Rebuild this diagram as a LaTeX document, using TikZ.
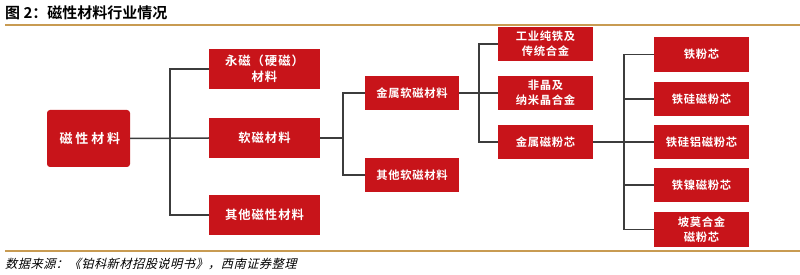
\documentclass[tikz,border=0pt]{standalone}
\usepackage{fontspec}
\newfontfamily\cjkb{Noto Sans CJK SC Bold}
\newfontfamily\cjkroot[LetterSpace=22]{Noto Sans CJK SC Bold}
\newfontfamily\cjkbig[LetterSpace=8]{Noto Sans CJK SC Bold}
\newfontfamily\cjksmall[LetterSpace=6]{Noto Sans CJK SC Bold}
\newfontfamily\cjkit[FakeSlant=0.25,LetterSpace=4]{Noto Sans CJK SC}
\definecolor{boxred}{RGB}{200,20,26}
\definecolor{gold}{RGB}{200,155,82}
\definecolor{linegray}{RGB}{60,60,60}
\tikzset{
  redbox/.style={fill=boxred, text=white, inner sep=0pt, align=center, font=\cjksmall\fontsize{11.3}{15}\selectfont},
  bigbox/.style={redbox, minimum width=111pt, minimum height=40pt, font=\cjkbig\fontsize{12.3}{16}\selectfont},
  midbox/.style={redbox, minimum width=94pt, minimum height=34pt},
  smallbox/.style={redbox, minimum width=95pt, minimum height=34pt},
  conn/.style={draw=linegray, line width=1.5pt},
  rule/.style={draw=gold, line width=2pt}
}
\begin{document}
\begin{tikzpicture}[x=1pt,y=-1pt]
\useasboundingbox (0,0) rectangle (800,275);
% title and rules
\node[anchor=west, inner sep=0pt, font=\cjkb\fontsize{15}{17}\selectfont] (title) at (5,13) {图 2：磁性材料行业情况};
\coordinate (r1a) at (5,25);
\coordinate (r1b) at (800,25);
\draw[rule] (r1a) -- (r1b);
\coordinate (r2a) at (5,251);
\coordinate (r2b) at (800,251);
\draw[rule] (r2a) -- (r2b);
\node[anchor=west, inner sep=0pt, font=\cjkit\fontsize{12.2}{15}\selectfont] (src) at (5,264) {数据来源：《铂科新材招股说明书》，西南证券整理};
% level 0
\node[redbox, rounded corners=3pt, minimum width=83pt, minimum height=57pt, font=\cjkroot\fontsize{13}{16}\selectfont] (root) at (88.5,138.5) {\hspace*{2.8pt}磁性材料};
% level 1
\node[bigbox] (perm) at (264.5,69) {永磁（硬磁）\\材料};
\node[bigbox] (soft) at (264.5,138) {软磁材料};
\node[bigbox] (other) at (264.5,215) {其他磁性材料};
% level 2
\node[midbox] (metsoft) at (412,93) {金属软磁材料};
\node[midbox] (othsoft) at (412,175) {其他软磁材料};
% level 3
\node[smallbox] (pure) at (545.5,44) {工业纯铁及\\传统合金};
\node[smallbox] (amorph) at (545.5,93) {非晶及\\纳米晶合金};
\node[smallbox] (powder) at (545.5,142) {金属磁粉芯};
% level 4
\node[smallbox, minimum height=35pt] (fe) at (701.5,54.5) {铁粉芯};
\node[smallbox] (fesi) at (701.5,99) {铁硅磁粉芯};
\node[smallbox] (fesial) at (701.5,142) {铁硅铝磁粉芯};
\node[smallbox] (feni) at (701.5,185) {铁镍磁粉芯};
\node[smallbox, minimum height=35pt] (permal) at (701.5,229.5) {坡莫合金\\磁粉芯};
% connectors
\draw[conn] (root.east) -- (soft.west);
\draw[conn] (perm.west) -- ++(-39,0) |- (other.west);
\draw[conn] (soft.east) -- ++(23,0);
\draw[conn] (metsoft.west) -- ++(-22,0) |- (othsoft.west);
\draw[conn] (metsoft.east) -- ++(20,0);
\draw[conn] (pure.west) -- ++(-19,0) |- (powder.west);
\draw[conn] (amorph.west) -- ++(-19,0);
\draw[conn] (powder.east) -- (fesial.west);
\draw[conn] (fe.west) -- ++(-30,0) |- (permal.west);
\draw[conn] (fesi.west) -- ++(-30,0);
\draw[conn] (feni.west) -- ++(-30,0);
\end{tikzpicture}
\end{document}
